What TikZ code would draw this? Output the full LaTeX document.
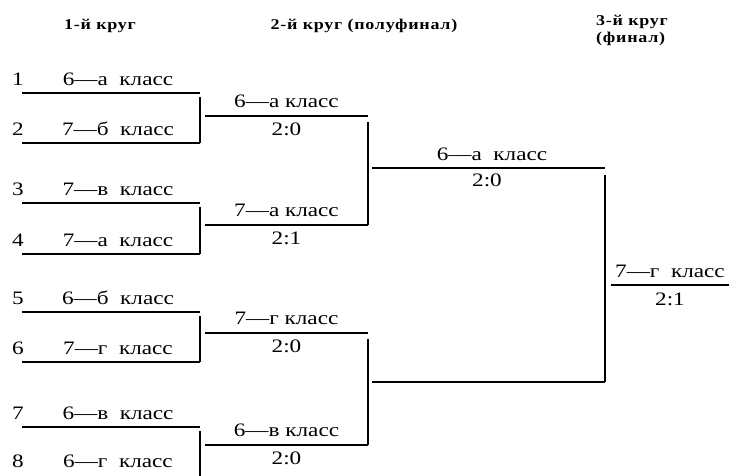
\documentclass[tikz,border=0pt]{standalone}
\usepackage{fontspec}
\setmainfont{Liberation Serif}
\newfontfamily\teamfont{Liberation Serif}[FakeStretch=1.22]
\newfontfamily\roundfont{Liberation Serif}[FakeStretch=1.2,LetterSpace=5]
\usetikzlibrary{positioning}
\tikzset{
  slot/.style={inner sep=0pt, outer sep=0pt, minimum height=0pt, minimum width=#1},
  bar/.style={line width=1.3pt},
  team/.style={font=\teamfont\fontsize{19}{22}\selectfont, inner sep=0pt, anchor=base},
  score/.style={team},
  seed/.style={team},
  round/.style={font=\roundfont\bfseries\fontsize{15}{17}\selectfont, inner sep=0pt, anchor=base},
}
\begin{document}
\begin{tikzpicture}[x=1pt, y=-1pt]
  \useasboundingbox (0,0) rectangle (738,475);
  \node[round] (h1) at (100,29) {1-й круг};
  \node[round] (h2) at (364,29) {2-й круг (полуфинал)};
  \node[round, anchor=north west, align=left] (h3) at (596,15) {3-й круг\\(финал)};

  % 1-й круг
  \foreach \i/\y/\t in {1/93/6—а\ \ класс, 2/143/7—б\ \ класс, 3/203/7—в\ \ класс,
                        4/254/7—а\ \ класс, 5/312/6—б\ \ класс, 6/362/7—г\ \ класс,
                        7/427/6—в\ \ класс}{
    \node[slot=178pt] (s\i) at (111,\y) {};
    \draw[bar] (s\i.west) -- (s\i.east);
    \node[team] (t\i) at ([xshift=7pt, yshift=7.5pt]s\i) {\t};
    \node[seed] (n\i) at (18,\y-7.5) {\i};
  }
  \coordinate (s8) at (200,476);
  \node[team] (t8) at (118,467) {6—г\ \ класс};
  \node[seed] (n8) at (18,467) {8};
  \foreach \a/\b in {1/2, 3/4, 5/6, 7/8}
    \draw[bar] ([yshift=-4pt]s\a.east) -- (s\b.east);

  % 2-й круг
  \foreach \i/\y/\t/\r in {1/116/6—а класс/2:0, 2/225/7—а класс/2:1,
                           3/333/7—г класс/2:0, 4/445/6—в класс/2:0}{
    \node[slot=163pt] (q\i) at (286.5,\y) {};
    \draw[bar] (q\i.west) -- (q\i.east);
    \node[team] (u\i) at ([yshift=9pt]q\i) {\t};
    \node[score] (v\i) at ([yshift=-19pt]q\i) {\r};
  }
  \draw[bar] ([yshift=-6pt]q1.east) -- (q2.east);
  \draw[bar] ([yshift=-6pt]q3.east) -- (q4.east);

  % 3-й круг
  \node[slot=233pt] (p1) at (488.5,168) {};
  \node[slot=233pt] (p2) at (488.5,382) {};
  \draw[bar] (p1.west) -- (p1.east);
  \draw[bar] (p2.west) -- (p2.east);
  \node[team] (w1) at (492,160) {6—а\ \ класс};
  \node[score] (x1) at (487,186) {2:0};
  \draw[bar] ([yshift=-7pt]p1.east) -- (p2.east);

  \node[slot=118pt] (fin) at (670,285) {};
  \draw[bar] (fin.west) -- (fin.east);
  \node[team] (wf) at ([yshift=8pt]fin) {7—г\ \ класс};
  \node[score] (xf) at ([yshift=-20pt]fin) {2:1};
\end{tikzpicture}
\end{document}
